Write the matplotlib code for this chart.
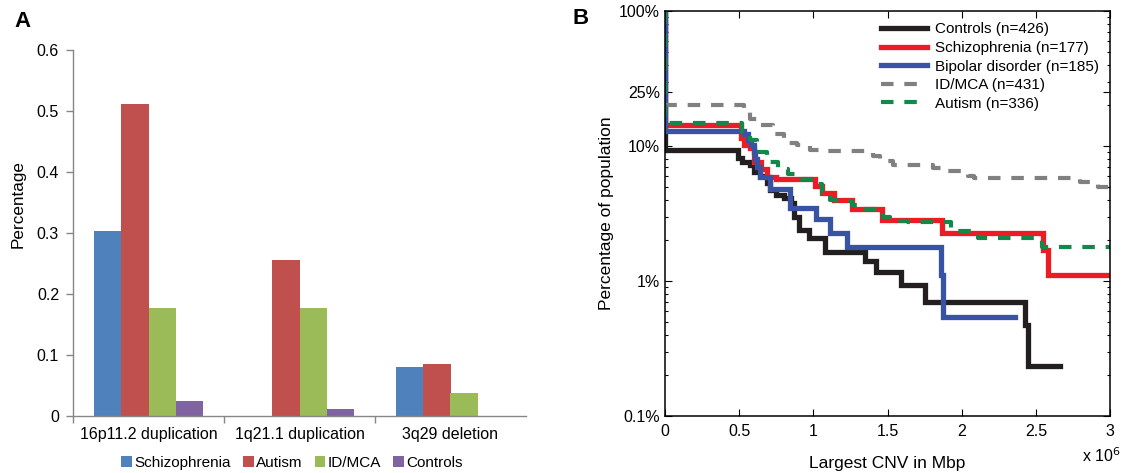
import matplotlib
matplotlib.use('Agg')
import matplotlib.pyplot as plt
import matplotlib.patches as patches
from matplotlib.ticker import FixedLocator, LogLocator, NullFormatter

plt.rcParams['font.family'] = ['Liberation Sans', 'DejaVu Sans']

# ---- Panel A: Häufigkeit einzelner CNVs ----
regions = ['16p11.2 duplication', '1q21.1 duplication', '3q29 deletion']
groups_a = ['Schizophrenia', 'Autism', 'ID/MCA', 'Controls']
schizophrenia_pct = [0.303, 0.0, 0.080]
autism_pct = [0.511, 0.256, 0.085]
idmca_pct = [0.177, 0.177, 0.037]
controls_pct = [0.024, 0.012, 0.0]
bar_colors = ['#4f81bd', '#c0504d', '#9bbb59', '#8064a2']

# ---- Panel B: Anteil mit groesstem CNV >= x (x in 10^6 bp, y in %) ----
controls_x = [0, 0, 0.49, 0.52, 0.57, 0.60, 0.64, 0.69, 0.71, 0.75, 0.80, 0.85,
              0.87, 0.90, 0.97, 1.08, 1.35, 1.42, 1.59, 1.75, 2.43, 2.45, 2.66]
controls_y = [100, 9.4, 8.2, 7.6, 7.2, 6.4, 6.0, 5.3, 4.7, 4.3, 4.15, 3.8,
              3.0, 2.4, 2.1, 1.64, 1.41, 1.17, 0.94, 0.70, 0.47, 0.235, 0.235]

schizo_x = [0, 0, 0.51, 0.53, 0.57, 0.60, 0.65, 0.69, 0.745, 1.01, 1.06, 1.14,
            1.26, 1.46, 1.87, 2.55, 2.58, 3.0]
schizo_y = [100, 14.3, 11.5, 10.2, 9.6, 7.6, 6.8, 5.9, 5.65, 5.08, 4.5, 3.95,
            3.39, 2.82, 2.26, 1.69, 1.10, 1.10]

bipolar_x = [0, 0, 0.53, 0.56, 0.58, 0.60, 0.61, 0.62, 0.64, 0.71, 0.84, 1.02,
             1.11, 1.23, 1.86, 1.875, 2.36]
bipolar_y = [100, 12.9, 12.2, 11.0, 10.1, 9.0, 8.0, 7.0, 5.9, 4.8, 3.5, 2.9,
             2.25, 1.78, 1.1, 0.54, 0.54]

idmca_x = [0, 0, 0.53, 0.57, 0.64, 0.73, 0.80, 0.89, 0.98, 1.07, 1.40, 1.45,
           1.54, 1.81, 1.86, 2.04, 2.08, 2.80, 2.92, 3.0]
idmca_y = [100, 20.0, 17.8, 15.8, 14.2, 12.2, 10.6, 10.1, 9.4, 9.2, 8.5, 7.8,
           7.2, 6.9, 6.5, 6.0, 5.8, 5.4, 5.0, 5.0]

autism_x = [0, 0, 0.52, 0.57, 0.62, 0.69, 0.76, 0.83, 0.92, 1.01, 1.06, 1.11,
            1.16, 1.26, 1.32, 1.47, 1.52, 1.64, 1.93, 2.11, 2.54, 3.0]
autism_y = [100, 14.9, 12.7, 11.0, 9.0, 7.6, 6.8, 6.2, 5.7, 5.2, 4.5, 4.0,
            3.89, 3.63, 3.4, 3.0, 2.8, 2.75, 2.36, 2.10, 1.79, 1.79]

curves = [
    ('Controls (n=426)', controls_x, controls_y, '#231f20', '-'),
    ('Schizophrenia (n=177)', schizo_x, schizo_y, '#ed1c24', '-'),
    ('Bipolar disorder (n=185)', bipolar_x, bipolar_y, '#3953a4', '-'),
    ('ID/MCA (n=431)', idmca_x, idmca_y, '#808080', '--'),
    ('Autism (n=336)', autism_x, autism_y, '#13884a', '--'),
]

W, H = 1126, 473
fig = plt.figure(figsize=(W / 100, H / 100), dpi=100)

# ================= Panel A =================
ax_a = fig.add_axes([73 / W, 1 - 416 / H, 453 / W, 366 / H])
axis_grey = '#868686'
xpos = range(len(regions))
bw = 0.18
for i, (vals, color, name) in enumerate(zip(
        [schizophrenia_pct, autism_pct, idmca_pct, controls_pct], bar_colors, groups_a)):
    ax_a.bar([x + (i - 1.5) * bw for x in xpos], vals, width=bw, color=color,
             label=name, zorder=2)

ax_a.set_xlim(-0.5, 2.5)
ax_a.set_ylim(0, 0.6)
ax_a.set_yticks([0, 0.1, 0.2, 0.3, 0.4, 0.5, 0.6])
ax_a.set_yticklabels(['0', '0.1', '0.2', '0.3', '0.4', '0.5', '0.6'])
ax_a.set_xticks(list(xpos))
ax_a.set_xticklabels(regions)
ax_a.xaxis.set_minor_locator(FixedLocator([-0.5, 0.5, 1.5]))
ax_a.tick_params(axis='x', which='major', length=0, pad=8, labelsize=11.5)
ax_a.tick_params(axis='x', which='minor', length=5, direction='out',
                 color=axis_grey, width=1)
ax_a.tick_params(axis='y', length=5, direction='out', color=axis_grey,
                 width=1, labelsize=11.5, pad=5)
for s in ['top', 'right']:
    ax_a.spines[s].set_visible(False)
for s in ['left', 'bottom']:
    ax_a.spines[s].set_color(axis_grey)
    ax_a.spines[s].set_linewidth(1)
ax_a.set_ylabel('Percentage', fontsize=12.3)
ax_a.yaxis.set_label_coords(-0.104, 0.58)

handles = [patches.Patch(facecolor=c, edgecolor='none', label=n)
           for c, n in zip(bar_colors, groups_a)]
fig.legend(handles=handles, loc='center', bbox_to_anchor=(292 / W, 1 - 463 / H),
           ncol=4, frameon=False, fontsize=11, handlelength=0.7, handleheight=0.7,
           handletextpad=0.15, columnspacing=0.8, borderpad=0)

fig.text(22 / W, 1 - 21 / H, 'A', fontsize=16, fontweight='bold',
         ha='center', va='center')

# ================= Panel B =================
ax_b = fig.add_axes([665 / W, 1 - 416 / H, 445 / W, 405 / H])
for label, xs, ys, color, ls in curves:
    if ls == '--':
        ax_b.step(xs, ys, where='post', color=color, lw=3.0, ls=(0, (3, 2.6)),
                  label=label)
    else:
        ax_b.step(xs, ys, where='post', color=color, lw=3.8, label=label,
                  solid_joinstyle='miter')

ax_b.set_yscale('log')
ax_b.set_xlim(0, 3)
ax_b.set_ylim(0.1, 100)
ax_b.set_xticks([0, 0.5, 1, 1.5, 2, 2.5, 3])
ax_b.set_xticklabels(['0', '0.5', '1', '1.5', '2', '2.5', '3'])
ax_b.yaxis.set_major_locator(FixedLocator([0.1, 1, 10, 25, 100]))
ax_b.set_yticklabels(['0.1%', '1%', '10%', '25%', '100%'])
ax_b.yaxis.set_minor_locator(LogLocator(base=10, subs=range(2, 10)))
ax_b.yaxis.set_minor_formatter(NullFormatter())
ax_b.tick_params(which='both', direction='in', top=True, right=True,
                 labelsize=11.5, width=0.8)
ax_b.tick_params(which='major', length=5)
ax_b.tick_params(which='minor', length=2.5)
ax_b.tick_params(axis='x', pad=6)
for s in ax_b.spines.values():
    s.set_linewidth(1.1)
ax_b.set_xlabel('Largest CNV in Mbp', fontsize=12.5, labelpad=12)
ax_b.set_ylabel('Percentage of population', fontsize=12.5)
ax_b.yaxis.set_label_coords(-0.115, 0.5)
fig.text(1121 / W, 1 - 456 / H, r'x 10$^6$', ha='right', va='center',
         fontsize=11.5)

ax_b.legend(loc='upper right', bbox_to_anchor=(1.0, 1.0), frameon=False,
            fontsize=11, handlelength=3.0, handletextpad=0.5, labelspacing=0.3,
            borderaxespad=0.35)

fig.text(581 / W, 1 - 19 / H, 'B', fontsize=16, fontweight='bold',
         ha='center', va='center')

fig.savefig('out.png', dpi=100)
